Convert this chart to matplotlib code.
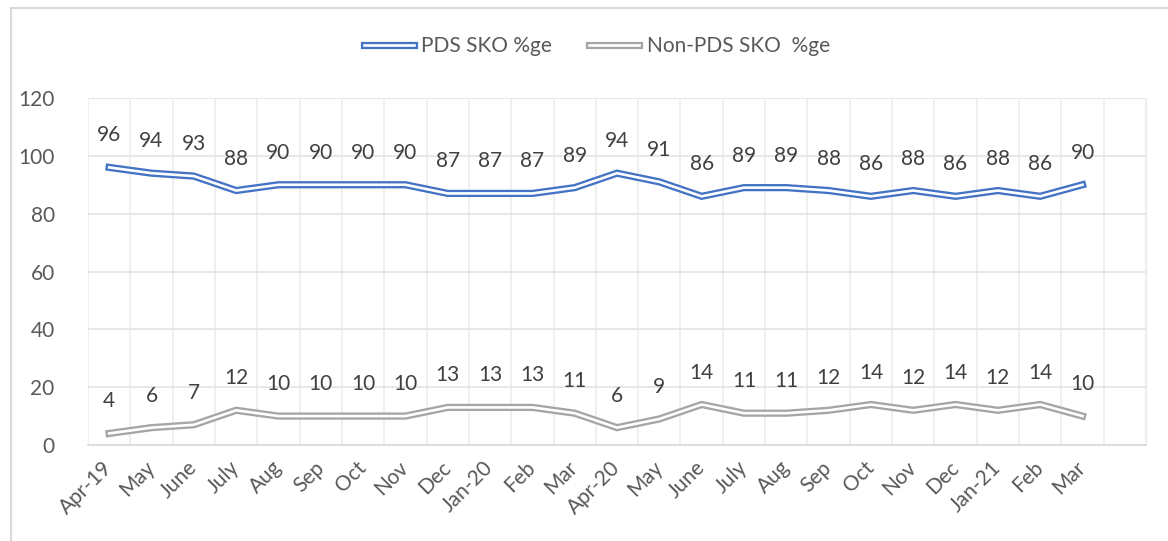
import matplotlib
matplotlib.use("Agg")
import matplotlib.pyplot as plt
from matplotlib.lines import Line2D
from matplotlib.legend_handler import HandlerTuple

months = ['Apr-19', 'May', 'June', 'July', 'Aug', 'Sep', 'Oct', 'Nov', 'Dec', 'Jan-20',
          'Feb', 'Mar', 'Apr-20', 'May', 'June', 'July', 'Aug', 'Sep', 'Oct', 'Nov',
          'Dec', 'Jan-21', 'Feb', 'Mar']
pds = [96, 94, 93, 88, 90, 90, 90, 90, 87, 87, 87, 89, 94, 91, 86, 89, 89, 88, 86, 88, 86, 88, 86, 90]
non_pds = [4, 6, 7, 12, 10, 10, 10, 10, 13, 13, 13, 11, 6, 9, 14, 11, 11, 12, 14, 12, 14, 12, 14, 10]
y_ticks = [0, 20, 40, 60, 80, 100, 120]

blue = '#4472C4'
grey = '#A5A5A5'
txt = '#595959'
outer_w = 5.2  # double line: coloured stroke with white core
inner_w = 1.9

plt.rcParams['font.family'] = ['Lato', 'DejaVu Sans']
fs = 15

fig = plt.figure(figsize=(11.68, 5.41), dpi=100)
ax = fig.add_axes([88/1168, 1-445/541, (1146-88)/1168, (445-98)/541])

x = list(range(len(months)))
handles = []
for vals, col in [(pds, blue), (non_pds, grey)]:
    ax.plot(x, vals, color=col, lw=outer_w, solid_joinstyle='miter', zorder=3)
    ax.plot(x, vals, color='white', lw=inner_w, solid_joinstyle='miter', zorder=4)
    for xi, v in zip(x, vals):
        ax.annotate(str(v), (xi, v), xytext=(0, 32), textcoords='offset pixels',
                    ha='center', va='center', fontsize=fs, color='#404040', zorder=5)
    handles.append((Line2D([], [], color=col, lw=outer_w), Line2D([], [], color='white', lw=inner_w)))

ax.set_xlim(-0.5, len(months) + 0.5)
ax.set_ylim(0, 120)
ax.set_yticks(y_ticks)
ax.set_xticks(x)
ax.set_xticklabels(months, rotation=45, ha='right', va='center', rotation_mode='anchor')
ax.set_xticks([i - 0.5 for i in range(len(months) + 2)], minor=True)
ax.tick_params(axis='both', which='both', length=0, labelsize=fs, labelcolor=txt)
ax.tick_params(axis='x', pad=14)
ax.tick_params(axis='y', pad=24)
ax.grid(axis='y', color='#E3E3E3', lw=1.2)
ax.grid(axis='x', which='minor', color='#ECECEC', lw=1.2)
ax.set_axisbelow(True)
for s in ['top', 'left']:
    ax.spines[s].set_visible(False)
ax.spines['right'].set_color('#ECECEC')
ax.spines['bottom'].set_color('#D9D9D9')
ax.spines['bottom'].set_linewidth(1.2)

fig.legend(handles, ['PDS SKO %ge', 'Non-PDS SKO  %ge'],
           handler_map={tuple: HandlerTuple(ndivide=1, pad=0)},
           loc='center', bbox_to_anchor=(0.511, 1-46/541), ncol=2, frameon=False,
           fontsize=fs, labelcolor=txt, handlelength=2.4, columnspacing=1.8, handletextpad=0.35)

# chart area border (top and left visible)
fig.add_artist(Line2D([11/1168, 1], [1-8/541, 1-8/541], color='#D9D9D9', lw=1.5))
fig.add_artist(Line2D([11/1168, 11/1168], [0, 1-8/541], color='#D9D9D9', lw=1.5))

fig.savefig('out.png', dpi=100)
